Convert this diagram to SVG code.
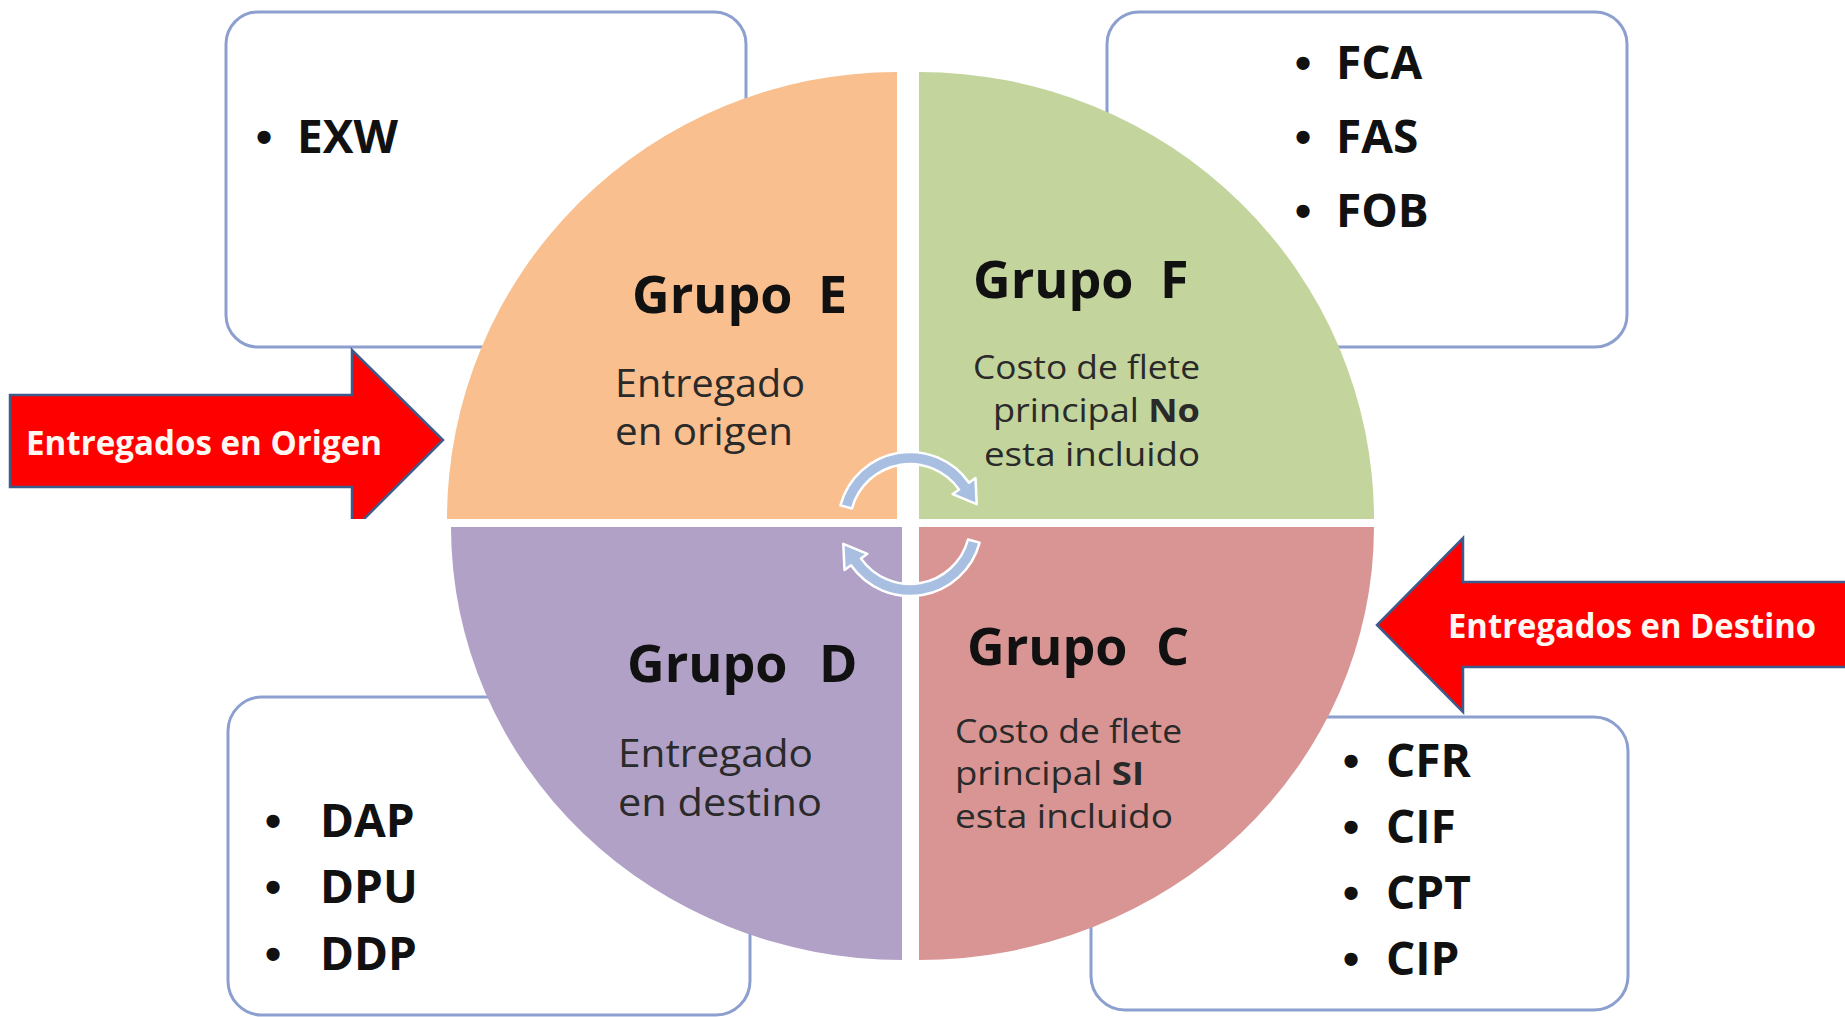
<svg xmlns="http://www.w3.org/2000/svg" width="1845" height="1017" viewBox="0 0 1845 1017">
<defs>
<style>
.box{fill:#ffffff;stroke:#8c9fcf;stroke-width:3}
.title{font-family:"Open Sans","Liberation Sans",sans-serif;font-weight:bold;font-size:52px;fill:#111}
.body{font-family:"Open Sans","Liberation Sans",sans-serif;font-size:39px;fill:#2a2a2a}
.small{font-family:"Open Sans","Liberation Sans",sans-serif;font-size:33px;fill:#2a2a2a}
.item{font-family:"Open Sans","Liberation Sans",sans-serif;font-weight:bold;font-size:46px;fill:#111}
.bul{font-family:"Liberation Sans",sans-serif;font-weight:bold;font-size:46px;fill:#111;text-anchor:middle}
.redarrow{fill:#ff0000;stroke:#3e5b8c;stroke-width:2.5;stroke-linejoin:miter}
.alabel{font-family:"Open Sans","Liberation Sans",sans-serif;font-weight:bold;font-size:34px;fill:#fff8f2}
.cyc{fill:#a9bfe1;stroke:#ffffff;stroke-width:2.5;stroke-linejoin:round}
</style>
<clipPath id="topclip"><rect x="0" y="0" width="1845" height="519"/></clipPath>
</defs>
<rect width="1845" height="1017" fill="#ffffff"/>

<g id="box-exw">
<rect class="box" x="226" y="12" width="520" height="335" rx="32"/>
<text class="bul" x="264" y="153">•</text>
<text class="item" x="297" y="153">EXW</text>
</g>
<g id="box-f">
<rect class="box" x="1107" y="12" width="520" height="335" rx="32"/>
<text class="bul" x="1303" y="79">•</text><text class="item" x="1336" y="79">FCA</text>
<text class="bul" x="1303" y="153">•</text><text class="item" x="1336" y="153">FAS</text>
<text class="bul" x="1303" y="227">•</text><text class="item" x="1336" y="227">FOB</text>
</g>
<g id="box-d">
<rect class="box" x="228" y="697" width="522" height="318" rx="34"/>
<text class="bul" x="273" y="837">•</text><text class="item" x="320" y="837">DAP</text>
<text class="bul" x="273" y="903">•</text><text class="item" x="320" y="903">DPU</text>
<text class="bul" x="273" y="970">•</text><text class="item" x="320" y="970">DDP</text>
</g>
<g id="box-c">
<rect class="box" x="1091" y="717" width="537" height="293" rx="34"/>
<text class="bul" x="1351" y="777">•</text><text class="item" x="1386" y="777">CFR</text>
<text class="bul" x="1351" y="843">•</text><text class="item" x="1386" y="843">CIF</text>
<text class="bul" x="1351" y="909">•</text><text class="item" x="1386" y="909">CPT</text>
<text class="bul" x="1351" y="975">•</text><text class="item" x="1386" y="975">CIP</text>
</g>

<g id="grupo-e">
<path d="M897,519 L447,519 A450,447 0 0 1 897,72 Z" fill="#f9bf8f"/>
<text class="title" x="632" y="313">Grupo<tspan x="818">E</tspan></text>
<text class="body" x="615" y="397" textLength="190" lengthAdjust="spacingAndGlyphs">Entregado</text>
<text class="body" x="615" y="445" textLength="178" lengthAdjust="spacingAndGlyphs">en origen</text>
</g>
<g id="grupo-f">
<path d="M919,519 L919,72 A455,447 0 0 1 1374,519 Z" fill="#c3d59c"/>
<text class="title" x="973" y="298">Grupo<tspan x="1160">F</tspan></text>
<text class="small" x="973" y="379" textLength="227" lengthAdjust="spacingAndGlyphs">Costo de flete</text>
<text class="small" x="993" y="422" textLength="207" lengthAdjust="spacingAndGlyphs">principal <tspan font-weight="bold">No</tspan></text>
<text class="small" x="984" y="466" textLength="216" lengthAdjust="spacingAndGlyphs">esta incluido</text>
</g>
<g id="grupo-d">
<path d="M902,527 L902,960 A451,433 0 0 1 451,527 Z" fill="#b2a1c7"/>
<text class="title" x="627" y="682">Grupo<tspan x="819">D</tspan></text>
<text class="body" x="618" y="767" textLength="195" lengthAdjust="spacingAndGlyphs">Entregado</text>
<text class="body" x="618" y="816" textLength="204" lengthAdjust="spacingAndGlyphs">en destino</text>
</g>
<g id="grupo-c">
<path d="M919,527 L1374,527 A455,433 0 0 1 919,960 Z" fill="#d89593"/>
<text class="title" x="967" y="665">Grupo<tspan x="1156">C</tspan></text>
<text class="small" x="955" y="743" textLength="227" lengthAdjust="spacingAndGlyphs">Costo de flete</text>
<text class="small" x="955" y="785" textLength="189" lengthAdjust="spacingAndGlyphs">principal <tspan font-weight="bold">SI</tspan></text>
<text class="small" x="955" y="828" textLength="218" lengthAdjust="spacingAndGlyphs">esta incluido</text>
</g>

<g id="arrow-origen">
<polygon class="redarrow" clip-path="url(#topclip)" points="10,395 352,395 352,350 443,440 352,531 352,487 10,487"/>
<text class="alabel" x="26" y="455" textLength="356" lengthAdjust="spacingAndGlyphs">Entregados en Origen</text>
</g>
<g id="arrow-destino">
<polygon class="redarrow" points="1850,582 1463,582 1463,538 1377,625 1463,712 1463,667 1850,667"/>
<text class="alabel" x="1448" y="638" textLength="368" lengthAdjust="spacingAndGlyphs">Entregados en Destino</text>
</g>

<g id="connectors">
<path class="cyc" d="M840.4,505.4 A72,72 0 0 1 969.0,482.7 L975.5,478.1 L976.7,504.2 L952.6,494.2 L959.1,489.6 A60,60 0 0 0 852.0,508.5 Z"/>
<path class="cyc" d="M979.6,542.6 A72,72 0 0 1 851.0,565.3 L844.5,569.9 L843.3,543.8 L867.4,553.8 L860.9,558.4 A60,60 0 0 0 968.0,539.5 Z"/>
</g>
</svg>
